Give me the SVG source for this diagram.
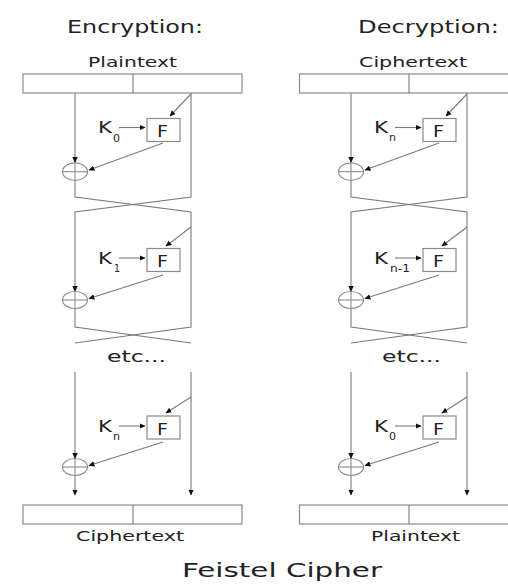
<svg xmlns="http://www.w3.org/2000/svg" width="508" height="587" viewBox="0 0 508 587">
<style>
.bg{fill:#ffffff}
.box{fill:#ffffff;stroke:#8a8a8a;stroke-width:1.2}
.ln{fill:none;stroke:#7a7a7a;stroke-width:1.1}
.arr{fill:none;stroke:#7a7a7a;stroke-width:1.1;marker-end:url(#ah)}
.xor{fill:none;stroke:#8a8a8a;stroke-width:1.1}
.t{font-family:"DejaVu Sans","Liberation Sans",sans-serif;fill:#222222}
.h{font-size:17px}
.lbl{font-size:13.5px}
.f{font-size:16px}
.k{font-size:16px}
.sub{font-size:11px}
.etc{font-size:16px}
.title{font-size:19px}
</style>
<defs>
<marker id="ah" viewBox="0 0 10 10" refX="9" refY="5" markerWidth="6" markerHeight="6" markerUnits="userSpaceOnUse" orient="auto">
<path d="M0,0.5 L10,5 L0,9.5 z" fill="#111111"/>
</marker>
</defs>
<rect class="bg" x="0" y="0" width="508" height="587"/>

<g id="headers">
<text class="t h" x="67" y="33" textLength="136" lengthAdjust="spacingAndGlyphs">Encryption:</text>
<text class="t h" x="358" y="33" textLength="141" lengthAdjust="spacingAndGlyphs">Decryption:</text>
</g>

<g id="connectors">
<!-- Encryption column -->
<path class="arr" d="M75,93 V162.5"/>
<path class="ln" d="M191,93 V197 L75,212 V286"/>
<path class="arr" d="M75,286 V291.5"/>
<path class="ln" d="M75,180.5 V197 L191,212 V327 L75,343"/>
<path class="ln" d="M75,308.5 V327 L191,343"/>
<path class="arr" d="M191,94 L170,116"/>
<path class="arr" d="M119,127.5 H145"/>
<path class="arr" d="M163,143 L89,170"/>
<path class="arr" d="M191,227 L166,246"/>
<path class="arr" d="M119,258 H145"/>
<path class="arr" d="M163,275 L89,298.5"/>
<path class="arr" d="M75,372 V458.5"/>
<path class="arr" d="M191,372 V495"/>
<path class="arr" d="M75,475.5 V495"/>
<path class="arr" d="M191,397 L166,413"/>
<path class="arr" d="M119,426 H145"/>
<path class="arr" d="M163,442 L89,465.5"/>
<!-- Decryption column -->
<path class="arr" d="M351,93 V162.5"/>
<path class="ln" d="M467,93 V197 L351,212 V286"/>
<path class="arr" d="M351,286 V291.5"/>
<path class="ln" d="M351,180.5 V197 L467,212 V327 L351,343"/>
<path class="ln" d="M351,308.5 V327 L467,343"/>
<path class="arr" d="M467,94 L446,116"/>
<path class="arr" d="M395,127.5 H421"/>
<path class="arr" d="M439,143 L365,170"/>
<path class="arr" d="M467,227 L442,246"/>
<path class="arr" d="M395,258 H421"/>
<path class="arr" d="M439,275 L365,298.5"/>
<path class="arr" d="M351,372 V458.5"/>
<path class="arr" d="M467,372 V495"/>
<path class="arr" d="M351,475.5 V495"/>
<path class="arr" d="M467,397 L442,413"/>
<path class="arr" d="M395,426 H421"/>
<path class="arr" d="M439,442 L365,465.5"/>
</g>

<g id="enc-input">
<rect class="box" x="23" y="74" width="219" height="19"/>
<line class="ln" x1="133" y1="74" x2="133" y2="93"/>
<text class="t lbl" x="88" y="67" textLength="89" lengthAdjust="spacingAndGlyphs">Plaintext</text>
</g>
<g id="enc-output">
<rect class="box" x="23" y="505" width="219" height="19"/>
<line class="ln" x1="133" y1="505" x2="133" y2="524"/>
<text class="t lbl" x="76" y="541" textLength="108" lengthAdjust="spacingAndGlyphs">Ciphertext</text>
</g>

<g id="enc-f1">
<rect class="box" x="147" y="118.5" width="33" height="23"/>
<text class="t f" x="157" y="137" textLength="11" lengthAdjust="spacingAndGlyphs">F</text>
</g>
<g id="enc-k1">
<text class="t k" x="98" y="133" textLength="14" lengthAdjust="spacingAndGlyphs">K</text>
<text class="t sub" x="113" y="141.5" textLength="7" lengthAdjust="spacingAndGlyphs">0</text>
</g>
<g id="enc-x1">
<ellipse class="xor" cx="75" cy="171.7" rx="12.5" ry="8.8"/>
<line class="xor" x1="62.5" y1="171.7" x2="87.5" y2="171.7"/>
<line class="xor" x1="75" y1="162.9" x2="75" y2="180.5"/>
</g>

<g id="enc-f2">
<rect class="box" x="147" y="248.5" width="33" height="23"/>
<text class="t f" x="157" y="267" textLength="11" lengthAdjust="spacingAndGlyphs">F</text>
</g>
<g id="enc-k2">
<text class="t k" x="98" y="264" textLength="14" lengthAdjust="spacingAndGlyphs">K</text>
<text class="t sub" x="114" y="272" textLength="6" lengthAdjust="spacingAndGlyphs">1</text>
</g>
<g id="enc-x2">
<ellipse class="xor" cx="75" cy="300" rx="12.5" ry="8.5"/>
<line class="xor" x1="62.5" y1="300" x2="87.5" y2="300"/>
<line class="xor" x1="75" y1="291.5" x2="75" y2="308.5"/>
</g>

<g id="enc-etc">
<text class="t etc" x="107" y="362" textLength="59" lengthAdjust="spacingAndGlyphs">etc...</text>
</g>

<g id="enc-f3">
<rect class="box" x="147" y="416" width="33" height="23"/>
<text class="t f" x="157" y="434.5" textLength="11" lengthAdjust="spacingAndGlyphs">F</text>
</g>
<g id="enc-k3">
<text class="t k" x="98" y="432" textLength="14" lengthAdjust="spacingAndGlyphs">K</text>
<text class="t sub" x="113" y="440" textLength="7" lengthAdjust="spacingAndGlyphs">n</text>
</g>
<g id="enc-x3">
<ellipse class="xor" cx="75" cy="467" rx="12.5" ry="8.5"/>
<line class="xor" x1="62.5" y1="467" x2="87.5" y2="467"/>
<line class="xor" x1="75" y1="458.5" x2="75" y2="475.5"/>
</g>

<g id="dec-input">
<rect class="box" x="299.5" y="74" width="219" height="19"/>
<line class="ln" x1="409" y1="74" x2="409" y2="93"/>
<text class="t lbl" x="359" y="67" textLength="108" lengthAdjust="spacingAndGlyphs">Ciphertext</text>
</g>
<g id="dec-output">
<rect class="box" x="299.5" y="505" width="219" height="19"/>
<line class="ln" x1="409" y1="505" x2="409" y2="524"/>
<text class="t lbl" x="371" y="541" textLength="89" lengthAdjust="spacingAndGlyphs">Plaintext</text>
</g>

<g id="dec-f1">
<rect class="box" x="423" y="118.5" width="33" height="23"/>
<text class="t f" x="433" y="137" textLength="11" lengthAdjust="spacingAndGlyphs">F</text>
</g>
<g id="dec-k1">
<text class="t k" x="374" y="133" textLength="14" lengthAdjust="spacingAndGlyphs">K</text>
<text class="t sub" x="389" y="140.5" textLength="7" lengthAdjust="spacingAndGlyphs">n</text>
</g>
<g id="dec-x1">
<ellipse class="xor" cx="351" cy="171.7" rx="12.5" ry="8.8"/>
<line class="xor" x1="338.5" y1="171.7" x2="363.5" y2="171.7"/>
<line class="xor" x1="351" y1="162.9" x2="351" y2="180.5"/>
</g>

<g id="dec-f2">
<rect class="box" x="423" y="248.5" width="33" height="23"/>
<text class="t f" x="433" y="267" textLength="11" lengthAdjust="spacingAndGlyphs">F</text>
</g>
<g id="dec-k2">
<text class="t k" x="374" y="264" textLength="14" lengthAdjust="spacingAndGlyphs">K</text>
<text class="t sub" x="390" y="271.5" textLength="20" lengthAdjust="spacingAndGlyphs">n-1</text>
</g>
<g id="dec-x2">
<ellipse class="xor" cx="351" cy="300" rx="12.5" ry="8.5"/>
<line class="xor" x1="338.5" y1="300" x2="363.5" y2="300"/>
<line class="xor" x1="351" y1="291.5" x2="351" y2="308.5"/>
</g>

<g id="dec-etc">
<text class="t etc" x="382" y="362" textLength="59" lengthAdjust="spacingAndGlyphs">etc...</text>
</g>

<g id="dec-f3">
<rect class="box" x="423" y="416" width="33" height="23"/>
<text class="t f" x="433" y="434.5" textLength="11" lengthAdjust="spacingAndGlyphs">F</text>
</g>
<g id="dec-k3">
<text class="t k" x="374" y="432" textLength="14" lengthAdjust="spacingAndGlyphs">K</text>
<text class="t sub" x="389" y="440" textLength="7" lengthAdjust="spacingAndGlyphs">0</text>
</g>
<g id="dec-x3">
<ellipse class="xor" cx="351" cy="467" rx="12.5" ry="8.5"/>
<line class="xor" x1="338.5" y1="467" x2="363.5" y2="467"/>
<line class="xor" x1="351" y1="458.5" x2="351" y2="475.5"/>
</g>

<g id="title">
<text class="t title" x="182" y="577" textLength="200" lengthAdjust="spacingAndGlyphs">Feistel Cipher</text>
</g>
</svg>
